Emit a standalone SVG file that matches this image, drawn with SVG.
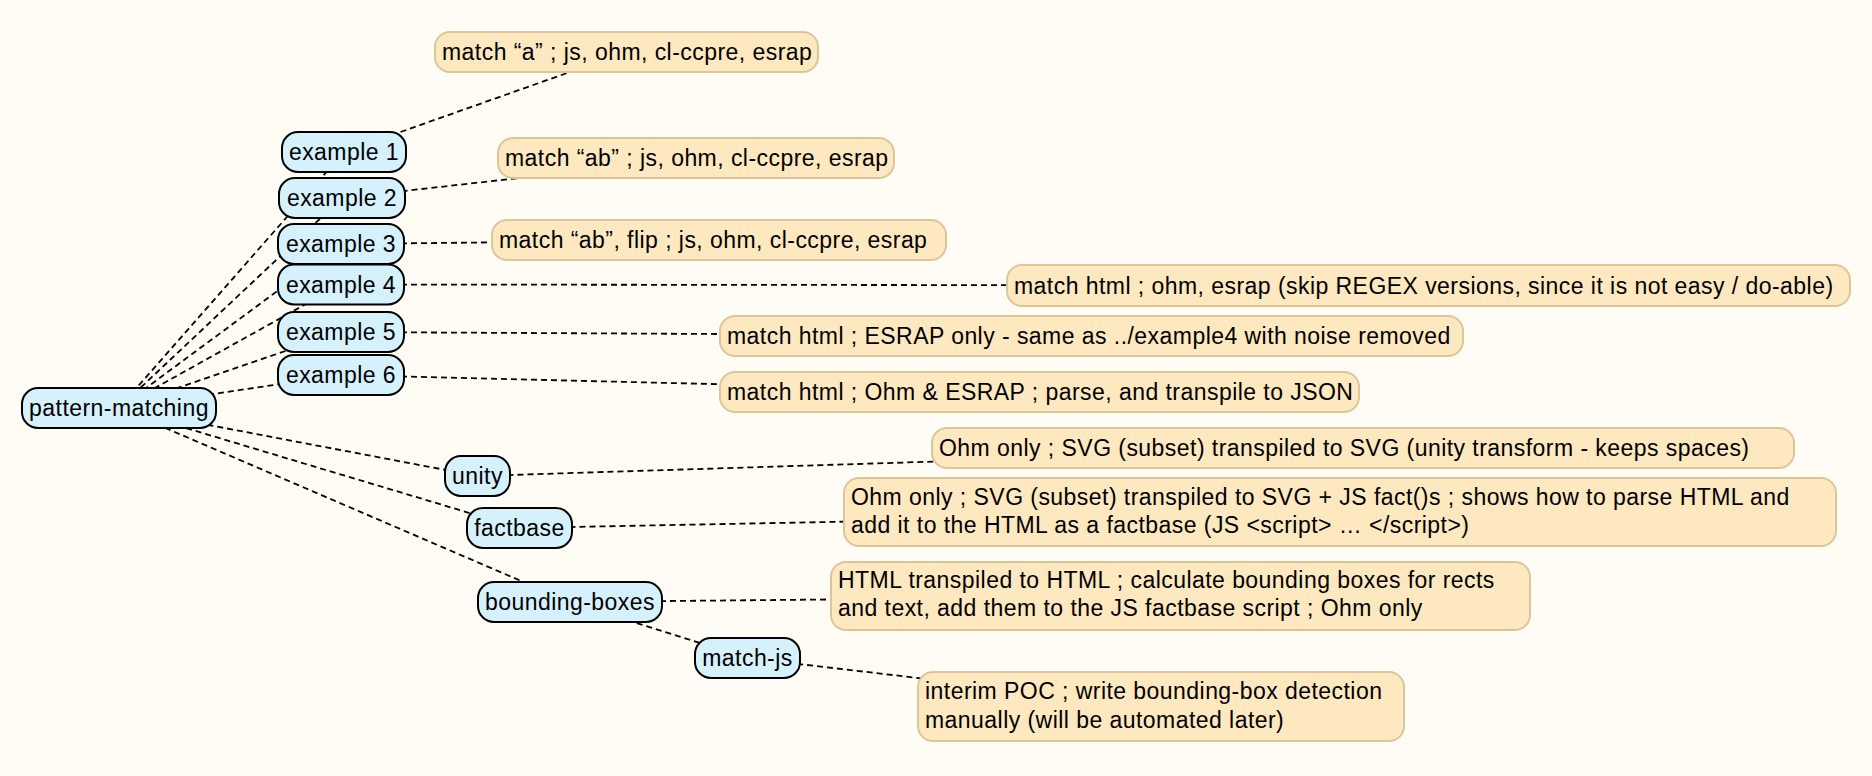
<svg xmlns="http://www.w3.org/2000/svg" width="1872" height="776" viewBox="0 0 1872 776">
<style>
.bg{fill:#fffcf5}
.edge{stroke:#000;stroke-width:1.8;stroke-dasharray:6 4;fill:none}
.node rect{fill:#d5f1fc;stroke:#000;stroke-width:2}
.note rect{fill:#fde8c0;stroke:#dcc698;stroke-width:2}
text{font-family:"Liberation Sans",Arial,Helvetica,sans-serif;font-size:23px;letter-spacing:0.45px;fill:#000}
.node text{text-anchor:middle}
</style>
<rect class="bg" x="0" y="0" width="1872" height="776"/>
<g id="connectors">
<line class="edge" x1="119" y1="408" x2="344" y2="152"/>
<line class="edge" x1="119" y1="408" x2="342" y2="198"/>
<line class="edge" x1="119" y1="408" x2="341" y2="244"/>
<line class="edge" x1="119" y1="408" x2="341" y2="284.5"/>
<line class="edge" x1="119" y1="408" x2="341" y2="332"/>
<line class="edge" x1="119" y1="408" x2="341" y2="375"/>
<line class="edge" x1="119" y1="408" x2="477.5" y2="476"/>
<line class="edge" x1="119" y1="408" x2="519.5" y2="528"/>
<line class="edge" x1="119" y1="408" x2="570" y2="602"/>
<line class="edge" x1="570" y1="602" x2="747.5" y2="658"/>
<line class="edge" x1="344" y1="152" x2="626.5" y2="52"/>
<line class="edge" x1="342" y1="198" x2="696" y2="158"/>
<line class="edge" x1="341" y1="244" x2="719" y2="240"/>
<line class="edge" x1="341" y1="284.5" x2="1428.5" y2="285.5"/>
<line class="edge" x1="341" y1="332" x2="1091.5" y2="336"/>
<line class="edge" x1="341" y1="375" x2="1039.5" y2="392"/>
<line class="edge" x1="477.5" y1="476" x2="1363" y2="448"/>
<line class="edge" x1="519.5" y1="528" x2="1340" y2="512"/>
<line class="edge" x1="570" y1="602" x2="1180.5" y2="596"/>
<line class="edge" x1="747.5" y1="658" x2="1161" y2="706.5"/>
</g>
<g id="note1" class="note"><rect x="435" y="32" width="383" height="40" rx="15"/><text x="442" y="60">match “a” ; js, ohm, cl-ccpre, esrap</text></g>
<g id="note2" class="note"><rect x="498" y="138" width="396" height="40" rx="15"/><text x="505" y="166">match “ab” ; js, ohm, cl-ccpre, esrap</text></g>
<g id="note3" class="note"><rect x="492" y="220" width="454" height="40" rx="15"/><text x="499" y="248">match “ab”, flip ; js, ohm, cl-ccpre, esrap</text></g>
<g id="note4" class="note"><rect x="1007" y="265" width="843" height="41" rx="15"/><text x="1014" y="293.5">match html ; ohm, esrap (skip REGEX versions, since it is not easy / do-able)</text></g>
<g id="note5" class="note"><rect x="720" y="316" width="743" height="40" rx="15"/><text x="727" y="344">match html ; ESRAP only - same as ../example4 with noise removed</text></g>
<g id="note6" class="note"><rect x="720" y="372" width="639" height="40" rx="15"/><text x="727" y="400">match html ; Ohm &amp; ESRAP ; parse, and transpile to JSON</text></g>
<g id="note7" class="note"><rect x="932" y="428" width="862" height="40" rx="15"/><text x="939" y="456">Ohm only ; SVG (subset) transpiled to SVG (unity transform - keeps spaces)</text></g>
<g id="note8" class="note"><rect x="844" y="478" width="992" height="68" rx="15"/><text x="851" y="505">Ohm only ; SVG (subset) transpiled to SVG + JS fact()s ; shows how to parse HTML and</text><text x="851" y="533">add it to the HTML as a factbase (JS &lt;script&gt; … &lt;/script&gt;)</text></g>
<g id="note9" class="note"><rect x="831" y="562" width="699" height="68" rx="15"/><text x="838" y="588">HTML transpiled to HTML ; calculate bounding boxes for rects</text><text x="838" y="616">and text, add them to the JS factbase script ; Ohm only</text></g>
<g id="note10" class="note"><rect x="918" y="672" width="486" height="69" rx="15"/><text x="925" y="699">interim POC ; write bounding-box detection</text><text x="925" y="728">manually (will be automated later)</text></g>
<g id="pattern-matching" class="node"><rect x="22" y="388" width="194" height="40" rx="16"/><text x="119" y="416">pattern-matching</text></g>
<g id="example1" class="node"><rect x="282" y="132" width="124" height="40" rx="16"/><text x="344" y="160">example 1</text></g>
<g id="example2" class="node"><rect x="279" y="178" width="126" height="40" rx="16"/><text x="342" y="206">example 2</text></g>
<g id="example3" class="node"><rect x="278" y="224" width="126" height="40" rx="16"/><text x="341" y="252">example 3</text></g>
<g id="example4" class="node"><rect x="278" y="264.5" width="126" height="40" rx="16"/><text x="341" y="292.5">example 4</text></g>
<g id="example5" class="node"><rect x="278" y="312" width="126" height="40" rx="16"/><text x="341" y="340">example 5</text></g>
<g id="example6" class="node"><rect x="278" y="355" width="126" height="40" rx="16"/><text x="341" y="383">example 6</text></g>
<g id="unity" class="node"><rect x="445" y="456" width="65" height="40" rx="16"/><text x="477.5" y="484">unity</text></g>
<g id="factbase" class="node"><rect x="467" y="508" width="105" height="40" rx="16"/><text x="519.5" y="536">factbase</text></g>
<g id="bounding-boxes" class="node"><rect x="478" y="582" width="184" height="40" rx="16"/><text x="570" y="610">bounding-boxes</text></g>
<g id="match-js" class="node"><rect x="695" y="638" width="105" height="40" rx="16"/><text x="747.5" y="666">match-js</text></g>
</svg>
